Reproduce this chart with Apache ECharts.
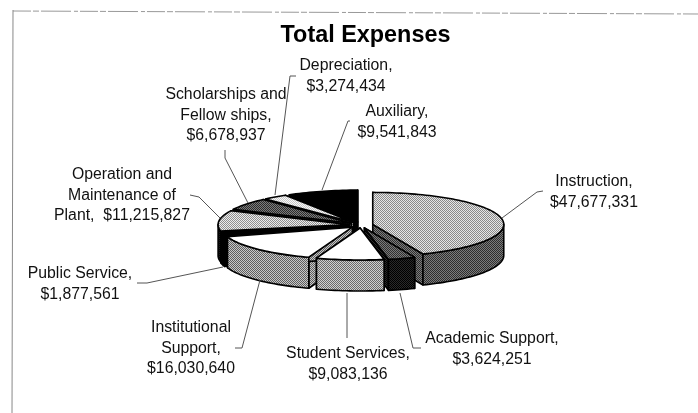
<!DOCTYPE html>
<html><head><meta charset="utf-8">
<script src="https://cdn.jsdelivr.net/npm/echarts@6/dist/echarts.min.js"></script>
<style>html,body{margin:0;padding:0;background:#fff}#c{width:698px;height:413px}</style>
</head><body><div id="c"></div>
<script>
const categories = ['Instruction','Academic Support','Student Services','Institutional Support','Public Service','Operation and Maintenance of Plant','Scholarships and Fellow ships','Depreciation','Auxiliary'];
const values = [47677331,3624251,9083136,16030640,1877561,11215827,6678937,3274434,9541843];
const labelLines = [
 ['Instruction,','$47,677,331'],
 ['Academic Support,','$3,624,251'],
 ['Student Services,','$9,083,136'],
 ['Institutional','Support,','$16,030,640'],
 ['Public Service,','$1,877,561'],
 ['Operation and','Maintenance of','Plant,  $11,215,827'],
 ['Scholarships and','Fellow ships,','$6,678,937'],
 ['Depreciation,','$3,274,434'],
 ['Auxiliary,','$9,541,843']
];
// style / layout: checker pairs [dark, light]
const topShade  = [['#8a8a8a','#e6e6e6'],['#303030','#7a7a7a'],['#fff','#fff'],['#fff','#fff'],['#000','#000'],['#8f8f8f','#ececec'],['#2c2c2c','#7c7c7c'],['#c8c8c8','#fafafa'],['#000','#000']];
const sideShade = [['#2e2e2e','#7c7c7c'],['#000','#2a2a2a'],['#6a6a6a','#d0d0d0'],['#5e5e5e','#c8c8c8'],['#000','#000'],['#000','#1c1c1c'],['#222','#555'],['#777','#bbb'],['#000','#000']];
const labelPos = [[594,181.5],[492,338.5],[348,353.5],[191,327.5],[80,273.5],[122,174.5],[226,94.5],[346,65.5],[397,111.5]];
const lineH = 20.8;
const leaders = [
 [[502,218],[537,192],[543,191]],
 [[400,293],[413,348],[421,348]],
 [[347,293],[347,338]],
 [[260,280],[242,348],[235,348]],
 [[223,267],[147,283],[137,283]],
 [[220,218],[199,197],[190,195]],
 [[248,203],[225,158],[225,150]],
 [[275,195],[290,76],[296,76]],
 [[322,190],[348,121],[350,121]]
];
const G = {cx:361, cy:225, rx:131, ry:32, depth:31, explode:12, explodeY:0.25};

function checker(pair){
  if(pair[0]===pair[1]) return pair[0];
  const c=document.createElement('canvas');c.width=c.height=2;
  const x=c.getContext('2d');x.fillStyle=pair[1];x.fillRect(0,0,2,2);x.fillStyle=pair[0];
  x.fillRect(0,0,1,1);x.fillRect(1,1,1,1);
  return {image:c,repeat:'repeat'};
}
const total = values.reduce((a,b)=>a+b,0);
const starts=[];let acc=0;values.forEach(v=>{starts.push(acc/total*Math.PI*2);acc+=v;});
const ends=values.map((v,i)=>starts[i]+v/total*Math.PI*2);
function geom(i){
  const m=(starts[i]+ends[i])/2;
  const ox=G.cx+G.explode*Math.sin(m), oy=G.cy-G.explode*G.explodeY*Math.cos(m);
  const P=(a,dz)=>[ox+G.rx*Math.sin(a), oy-G.ry*Math.cos(a)+(dz||0)];
  return {ox,oy,P};
}
function arc(P,a,b,dz){const n=Math.max(2,Math.ceil((b-a)/0.03));const r=[];for(let k=0;k<=n;k++)r.push(P(a+(b-a)*k/n,dz));return r;}
const stroke={stroke:'#000',lineWidth:1.6,lineJoin:'round'};
function renderItem(params,api){
  const i=api.value(0), s=starts[i], e=ends[i], {ox,oy,P}=geom(i);
  const top=checker(topShade[i]), side=checker(sideShade[i]);
  const kids=[];
  const d=G.depth, A=[ox,oy], B=[ox,oy+d];
  [s,e].forEach(a=>{
    kids.push({type:'polygon',shape:{points:[A,P(a),P(a,d),B]},style:{fill:side,...stroke}});
  });
  const a0=Math.max(s,Math.PI/2), a1=Math.min(e,Math.PI*1.5);
  if(a1>a0){
    kids.push({type:'polygon',shape:{points:arc(P,a0,a1,0).concat(arc(P,a0,a1,d).reverse())},style:{fill:side,...stroke}});
  }
  kids.push({type:'polygon',shape:{points:[A].concat(arc(P,s,e,0))},style:{fill:top,...stroke}});
  return {type:'group',children:kids};
}
const order=values.map((v,i)=>i).sort((p,q)=>Math.cos((starts[q]+ends[q])/2)-Math.cos((starts[p]+ends[p])/2));
const graphicEls=[
 {type:'line',shape:{x1:13,y1:11,x2:698,y2:14},style:{stroke:'#999',lineWidth:1,lineDash:[18,2,6,2,30,3,4,2]},silent:true},
 {type:'line',shape:{x1:13,y1:10,x2:12,y2:413},style:{stroke:'#888',lineWidth:1},silent:true}
];
leaders.forEach(pts=>graphicEls.push({type:'polyline',shape:{points:pts},style:{stroke:'#555',lineWidth:1,fill:'none'},z:5}));
labelLines.forEach((ls,i)=>ls.forEach((t,k)=>graphicEls.push({type:'text',x:labelPos[i][0],y:labelPos[i][1]+k*lineH,z:6,
  style:{text:t,fill:'#111',font:'15.8px "Liberation Sans", Arial, sans-serif',textAlign:'center',textVerticalAlign:'middle'}})));
const chart=echarts.init(document.getElementById('c'),null,{renderer:'canvas'});
chart.setOption({
  animation:false,backgroundColor:'#fff',
  title:{text:'Total Expenses',left:360.5,top:19.5,textAlign:'center',textStyle:{fontFamily:'"Liberation Sans", Arial, sans-serif',fontSize:23.4,fontWeight:'bold',color:'#000'}},
  series:[{type:'custom',coordinateSystem:'none',renderItem,silent:true,
    data:order.map(i=>({name:categories[i],value:[i,values[i]]}))}],
  graphic:graphicEls
});
</script></body></html>
